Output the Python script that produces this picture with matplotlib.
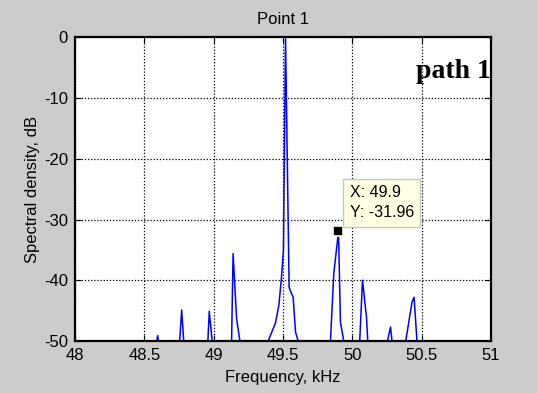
import numpy as np
import matplotlib.pyplot as plt

plt.rcParams['font.family'] = ['Liberation Sans', 'DejaVu Sans']
plt.rcParams['axes.unicode_minus'] = False

nan = np.nan
# spectrum; NaN separates the peaks (below -50 dB)
freq_khz = [48.590, 48.596, 48.602, nan,
            48.755, 48.769, 48.784, nan,
            48.958, 48.968, 48.989, nan,
            49.129, 49.140, 49.165, 49.189, nan,
            49.393, 49.446, 49.470, 49.489, 49.503, 49.518, 49.544, 49.573, 49.590, 49.609, nan,
            49.842, 49.866, 49.900, 49.914, 49.938, nan,
            50.053, 50.073, 50.102, 50.111, nan,
            50.253, 50.275, 50.286, nan,
            50.385, 50.430, 50.445, 50.466]
density_db = [-50, -49.1, -50, nan,
              -50, -44.9, -50, nan,
              -50, -45.1, -50, nan,
              -50, -35.6, -46.3, -50, nan,
              -50, -47.0, -44.1, -39.5, -35.0, 0.0, -41.2, -42.8, -48.5, -50, nan,
              -50, -38.9, -31.96, -46.9, -50, nan,
              -50, -40.0, -46.1, -50, nan,
              -50, -47.7, -50, nan,
              -50, -43.6, -42.8, -50]

tip_x = 49.9
tip_y = -31.96

xticks = [48, 48.5, 49, 49.5, 50, 50.5, 51]
xticklabels = ['48', '48.5', '49', '49.5', '50', '50.5', '51']
yticks = [-50, -40, -30, -20, -10, 0]

bg = '#cccccc'
fig = plt.figure(figsize=(5.37, 3.93), dpi=100, facecolor=bg)
ax = fig.add_axes([0.1397, 0.1323, 0.7747, 0.7723])
ax.set_facecolor('white')

ax.plot(freq_khz, density_db, color='#0000ff', lw=1.1, zorder=2)

ax.set_xlim(48, 51)
ax.set_ylim(-50, 0)
ax.set_xticks(xticks)
ax.set_xticklabels(xticklabels)
ax.set_yticks(yticks)
ax.grid(True, color='black', linestyle=(0, (1, 1.5)), linewidth=0.9)
ax.tick_params(direction='in', top=True, right=True, length=4, width=0.8,
               labelsize=12, pad=5)
for s in ax.spines.values():
    s.set_linewidth(1.6)
    s.set_zorder(3)

ax.set_title('Point 1', fontsize=12, pad=10)
ax.set_xlabel('Frequency, kHz', fontsize=12, labelpad=5)
ax.set_ylabel('Spectral density, dB', fontsize=12, labelpad=3)

# datatip
ax.plot([tip_x], [tip_y], marker='s', markersize=7, color='black',
        markeredgecolor='#ffffe1', markeredgewidth=1.2, zorder=5, clip_on=False)
ax.annotate('X: 49.9\nY: -31.96', xy=(tip_x, tip_y), xytext=(8, 8),
            textcoords='offset points', fontsize=11.5, ha='left', va='bottom',
            linespacing=1.45, zorder=6,
            bbox=dict(boxstyle='square,pad=0.4', fc='#ffffe1', ec='#c8c8c8', lw=1))

ax.text(50.73, -5.6, 'path 1', fontsize=20, fontweight='bold',
        family='Liberation Serif', ha='center', va='center', zorder=6,
        clip_on=False)

fig.savefig('out.png', dpi=100, facecolor=bg)
